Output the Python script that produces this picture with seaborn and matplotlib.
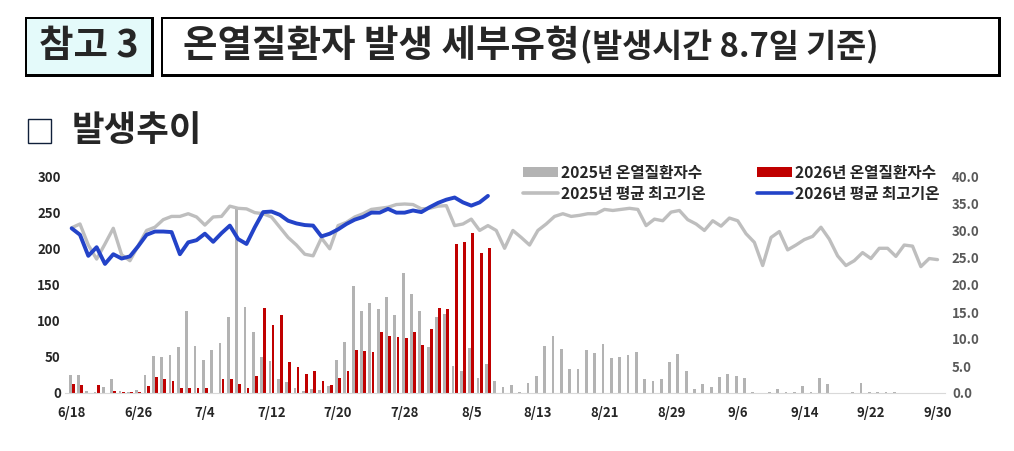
import matplotlib
matplotlib.use('Agg')
import matplotlib.pyplot as plt
from matplotlib.patches import Rectangle, Patch
from matplotlib.lines import Line2D
import numpy as np
import pandas as pd
import seaborn as sns

# ----- Data -----

tick_labels = ['6/18', '6/26', '7/4', '7/12', '7/20', '7/28', '8/5',
               '8/13', '8/21', '8/29', '9/6', '9/14', '9/22', '9/30']

# daily heat illness patients, 6/18 .. 9/30
cases_2025 = [25, 25, 3, 1, 9, 20, 3, 2, 4, 25,
              52, 50, 53, 64, 114, 65, 46, 60, 69, 106,
              258, 119, 85, 50, 44, 19, 15, 7, 3, 6,
              4, 10, 46, 71, 148, 114, 125, 117, 133, 108,
              166, 138, 114, 64, 105, 110, 38, 30, 63, 21,
              40, 17, 8, 11, 2, 14, 23, 65, 79, 61,
              33, 34, 60, 56, 68, 48, 50, 53, 57, 19,
              16, 19, 43, 54, 30, 6, 13, 8, 22, 26,
              23, 21, 1, 0, 1, 5, 2, 2, 10, 2,
              21, 12, 0, 0, 1, 14, 1, 1, 1, 1,
              0, 0, 0, 0, 0]

# 6/18 .. 8/7
cases_2026 = [13, 11, 0, 11, 0, 3, 2, 1, 1, 10,
              22, 19, 17, 7, 7, 7, 7, 0, 20, 20,
              13, 7, 24, 118, 95, 109, 43, 36, 27, 30,
              17, 11, 21, 30, 60, 59, 57, 85, 79, 78,
              77, 85, 67, 89, 118, 117, 207, 210, 222, 194,
              202]

# mean daily max temperature
temp_2025 = [30.6, 31.3, 27.4, 24.8, 27.6, 30.5, 25.6, 24.5, 27.3, 30.1,
             30.7, 32.1, 32.7, 32.7, 33.2, 32.6, 31.1, 32.6, 32.7, 34.6,
             34.2, 34.1, 33.4, 33.2, 32.6, 30.7, 28.8, 27.4, 25.7, 25.4,
             28.7, 26.7, 31.0, 31.6, 32.6, 33.2, 34.0, 34.2, 34.4, 34.9,
             35.0, 34.9, 34.1, 34.2, 34.6, 34.7, 31.0, 31.3, 32.2, 30.1,
             31.0, 30.1, 26.8, 30.1, 28.8, 27.4, 30.1, 31.3, 32.7, 33.2,
             32.7, 32.9, 33.2, 33.2, 34.0, 33.8, 34.0, 34.2, 34.0, 31.0,
             32.2, 31.9, 33.5, 33.8, 32.1, 31.3, 30.1, 31.9, 30.9, 32.4,
             31.9, 29.5, 27.9, 23.6, 28.8, 29.9, 26.5, 27.4, 28.4, 29.0,
             30.7, 28.5, 25.4, 23.6, 24.5, 26.0, 24.9, 26.8, 26.8, 25.3,
             27.4, 27.2, 23.4, 24.9, 24.7]

temp_2026 = [30.5, 29.3, 25.4, 27.0, 23.9, 25.7, 24.9, 25.3, 27.2, 29.3,
             29.9, 29.9, 29.8, 25.7, 27.9, 28.3, 29.5, 28.0, 29.6, 31.0,
             28.5, 27.6, 30.7, 33.5, 33.6, 33.0, 31.9, 31.4, 31.1, 31.0,
             29.0, 29.5, 30.3, 31.3, 32.1, 32.6, 33.4, 33.4, 34.1, 33.4,
             33.4, 33.8, 33.5, 34.4, 35.2, 35.8, 36.2, 35.3, 34.7, 35.3,
             36.5]

lbl_c25 = '2025년 온열질환자수'
lbl_c26 = '2026년 온열질환자수'
lbl_t25 = '2025년 평균 최고기온'
lbl_t26 = '2026년 평균 최고기온'

# ----- Setup -----

W, H = 1014, 451
sns.set_style('white')
plt.rcParams['font.family'] = ['Noto Sans CJK KR', 'DejaVu Sans']

c_gray_bar = '#B3B3B3'
c_red = '#C00000'
c_gray_line = '#BEBEBE'
c_blue = '#2343C8'
c_text = '#262626'

fig = plt.figure(figsize = (W / 100, H / 100), dpi = 100)

def fx(px):
    return px / W

def fy(py):
    return 1 - py / H

def box(x0, y0, x1, y1, face):
    # shadowed frame: thick bottom/right edge
    fig.add_artist(Rectangle((fx(x0), fy(y1 + 3)), fx(x1 + 3 - x0), (y1 + 3 - y0) / H,
                             facecolor = 'black', edgecolor = 'none', transform = fig.transFigure))
    fig.add_artist(Rectangle((fx(x0 + 1.5), fy(y1 - 0.5)), fx(x1 - x0 - 2), (y1 - y0 - 2) / H,
                             facecolor = face, edgecolor = 'none', transform = fig.transFigure))

# ----- Header -----

box(25, 17, 151, 74, '#E4FAFA')
box(161, 17, 998, 74, 'white')

fig.text(fx(89), fy(46), '참고 3', fontsize = 27, weight = 'heavy', ha = 'center', va = 'center')
title = fig.text(fx(183), fy(46), '온열질환자 발생 세부유형', fontsize = 27, weight = 'heavy',
                 ha = 'left', va = 'center')

fig.canvas.draw()
tb = title.get_window_extent()
fig.text(tb.x1 / W + fx(1), fy(47), '(발생시간 8.7일 기준)', fontsize = 23.5, weight = 'heavy',
         ha = 'left', va = 'center')

fig.add_artist(Rectangle((fx(28), fy(143)), fx(23), 24 / H, facecolor = 'white',
                         edgecolor = '#10203A', linewidth = 1, transform = fig.transFigure))
fig.text(fx(72), fy(131), '발생추이', fontsize = 25.5, weight = 'heavy', ha = 'left', va = 'center')

# ----- Chart -----

ax = fig.add_axes([fx(65), fy(393), fx(945 - 65), (393 - 177) / H])

days = list(range(len(cases_2025)))
n26 = len(cases_2026)

bars = pd.DataFrame({
    'day': days + days,
    'year': [lbl_c25] * len(days) + [lbl_c26] * len(days),
    'cases': cases_2025 + cases_2026 + [np.nan] * (len(days) - n26),
})

sns.barplot(data = bars, x = 'day', y = 'cases', hue = 'year', order = days,
            palette = {lbl_c25: c_gray_bar, lbl_c26: c_red}, width = 0.74, gap = 0.1,
            saturation = 1, errorbar = None, legend = False, linewidth = 0, edgecolor = 'none', ax = ax)

ax2 = ax.twinx()
sns.lineplot(x = days, y = temp_2025, color = c_gray_line, linewidth = 2.4, ax = ax2)
sns.lineplot(x = days[:n26], y = temp_2026, color = c_blue, linewidth = 2.8, ax = ax2)

ax.set_xlim(-0.8, 104.9)
ax.set_ylim(0, 300)
ax2.set_ylim(0, 40)

ax.set_xticks(range(0, len(days), 8))
ax.set_xticklabels(tick_labels)
ax.set_yticks(range(0, 301, 50))
ax2.set_yticks(range(0, 41, 5))
ax2.set_yticklabels([f'{v:.1f}' for v in range(0, 41, 5)])

ax.set_xlabel('')
ax.set_ylabel('')
ax2.set_ylabel('')

for a in (ax, ax2):
    for s in a.spines.values():
        s.set_visible(False)
ax.spines['bottom'].set_visible(True)
ax.spines['bottom'].set_color('#D9D9D9')

ax.tick_params(axis = 'x', length = 0, pad = 9, labelsize = 9.5, colors = c_text)
ax.tick_params(axis = 'y', length = 0, pad = 3, labelsize = 9.5, colors = c_text)
ax2.tick_params(axis = 'y', length = 0, pad = 5, labelsize = 9.5, colors = '#595959')

for lab in ax.get_xticklabels() + ax.get_yticklabels() + ax2.get_yticklabels():
    lab.set_fontweight('bold')

# ----- Legend -----

handles = [
    Patch(facecolor = c_gray_bar, edgecolor = 'none'),
    Line2D([], [], color = c_gray_line, linewidth = 2.6),
    Patch(facecolor = c_red, edgecolor = 'none'),
    Line2D([], [], color = c_blue, linewidth = 2.6),
]
labels = [lbl_c25, lbl_t25, lbl_c26, lbl_t26]

fig.legend(handles, labels, ncol = 2, loc = 'upper left', bbox_to_anchor = (fx(523), fy(165)),
           frameon = False, prop = {'weight': 'bold', 'size': 11.3}, labelcolor = c_text,
           handlelength = 2.2, handleheight = 0.6, handletextpad = 0.2, columnspacing = 3.3,
           labelspacing = 0.3, borderpad = 0, borderaxespad = 0)

fig.savefig('out.png', dpi = 100)
